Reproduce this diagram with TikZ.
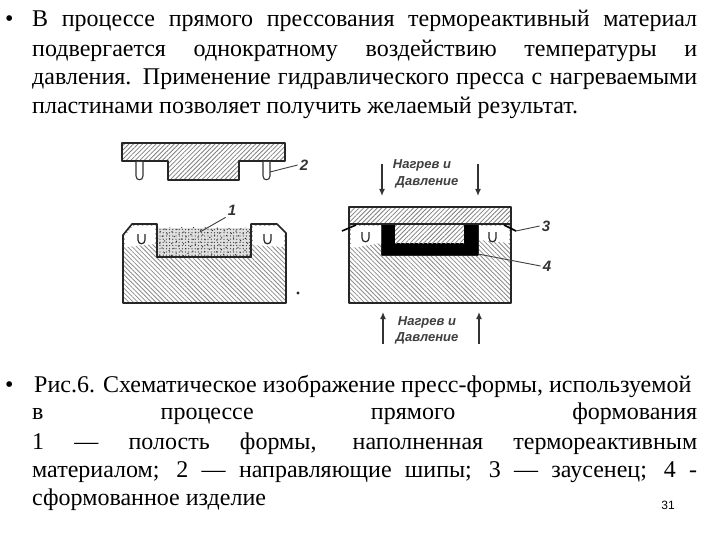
\documentclass[tikz,border=0pt]{standalone}
\usepackage{fontspec}
\setmainfont{Liberation Serif}
\newfontfamily\labelfont{Liberation Sans}
\usetikzlibrary{patterns.meta,arrows.meta}
\tikzset{
  x=1pt,y=-1pt,
  line/.style={anchor=base west,inner sep=0pt,font=\fontsize{24}{28}\selectfont},
  hatchR/.style={pattern={Lines[angle=45,distance=3.2pt,line width=.8pt]},pattern color=black!50},
  hatchL/.style={pattern={Lines[angle=-45,distance=3.2pt,line width=.8pt]},pattern color=black!45},
  outl/.style={draw=black!85,line width=1.6pt,line join=round},
  thinl/.style={draw=black!75,line width=.9pt},
  pinl/.style={draw=black!80,line width=1.1pt,fill=white},
  umark/.style={draw=black!85,line width=1.2pt},
  num/.style={inner sep=2pt,font=\labelfont\itshape\bfseries\fontsize{15}{15}\selectfont,text=black!80},
  cap2/.style={inner sep=0pt,font=\labelfont\itshape\bfseries\fontsize{13}{13}\selectfont,text=black!75},
  press/.style={draw=black!80,line width=1.3pt,-{Latex[length=7pt,width=6pt]}}
}
\newcommand{\jline}[4]{\node[line] (#1) at (#2,#3) {\makebox[665pt][s]{#4}};}
\newcommand{\pline}[4]{\node[line] (#1) at (#2,#3) {#4};}
\begin{document}
\begin{tikzpicture}
\useasboundingbox[fill=white] (0,0) rectangle (720,540);
% top text
\node[line] (b1) at (5,27) {•};
\jline{t1}{32}{27}{В процессе прямого прессования термореактивный материал}
\jline{t2}{32}{57}{подвергается однократному воздействию температуры и}
\jline{t3}{32}{85}{давления. Применение гидравлического пресса с нагреваемыми}
\pline{t4}{32}{114}{пластинами позволяет получить желаемый результат.}
% upper die
\draw[outl,hatchR] (122,143) -- (285,143) -- (285,161) -- (239,161) -- (239,180) -- (168,180) -- (168,161) -- (122,161) -- cycle;
\draw[pinl] (136,162) -- (136,176) .. controls (136,181) and (143,181) .. (143,176) -- (143,162);
\draw[pinl] (263,162) -- (263,176) .. controls (263,181) and (270,181) .. (270,176) -- (270,162);
\coordinate (p2) at (270,172);
\node[num] (n2) at (304,165) {2};
\draw[thinl] (p2) -- (n2.west);
% lower mould left
\draw[outl,hatchL] (123,235) -- (132,224) -- (157,224) -- (157,257) -- (251,257) -- (251,224) -- (277,224) -- (286,233) -- (286,303) -- (123,303) -- cycle;
\fill[white] (125,236) -- (133,226) -- (155,226) -- (155,244) -- (125,247) -- cycle;
\fill[white] (253,226) -- (276,226) -- (284,234) -- (284,247) -- (253,245) -- cycle;
\draw[umark] (138,234) -- (138,240) .. controls (138,245) and (145,245) .. (145,240) -- (145,234);
\draw[umark] (264,234) -- (264,240) .. controls (264,245) and (271,245) .. (271,240) -- (271,234);
\path[fill=black!12] (158,228) rectangle (250,256);
\path[pattern={Dots[distance=3.2pt,radius=.65pt]},pattern color=black!75] (158,228) rectangle (250,256);
\path[pattern={Dots[distance=5.3pt,radius=.75pt,angle=25]},pattern color=black!80] (158,228) rectangle (250,256);
\draw[outl] (157,224) -- (157,257) -- (251,257) -- (251,224);
\fill[black!85] (298,293) circle[radius=1.6];
\coordinate (p1) at (200,232);
\node[num] (n1) at (232,210) {1};
\draw[thinl] (p1) -- (n1.south west);
% right assembly
\draw[outl,hatchL] (349,224) -- (382,224) -- (382,255) -- (478,255) -- (478,224) -- (511,224) -- (511,303) -- (349,303) -- cycle;
\fill[white] (351,226) -- (381,226) -- (381,243) -- (351,248) -- cycle;
\fill[white] (479,226) -- (509,226) -- (509,243) -- (479,240) -- cycle;
\draw[umark] (362,232) -- (362,238) .. controls (362,243) and (369,243) .. (369,238) -- (369,232);
\draw[umark] (489,232) -- (489,238) .. controls (489,243) and (496,243) .. (496,238) -- (496,232);
\fill[black] (382,224) rectangle (478,255);
\fill[white] (395,224) rectangle (464,243);
\path[hatchR] (395,224) rectangle (464,243);
\draw[outl,hatchR] (349,207) rectangle (511,224);
\coordinate (fl1) at (342,231);
\coordinate (fl2) at (356,225);
\coordinate (fr1) at (504,225);
\coordinate (fr2) at (516,231);
\draw[black,line width=1.6pt] (fl1) -- (fl2);
\draw[black,line width=1.6pt] (fr1) -- (fr2);
\node[num] (n3) at (546,226) {3};
\draw[thinl] (fr2) -- (n3.west);
\coordinate (p4) at (478,254);
\node[num] (n4) at (547,266) {4};
\draw[thinl] (p4) -- (n4.west);
% arrows and captions
\coordinate (a1s) at (382,164); \coordinate (a1e) at (382,196);
\coordinate (a2s) at (478,164); \coordinate (a2e) at (478,196);
\coordinate (a3s) at (383,344); \coordinate (a3e) at (383,312);
\coordinate (a4s) at (479,344); \coordinate (a4e) at (479,312);
\draw[press] (a1s) -- (a1e);
\draw[press] (a2s) -- (a2e);
\draw[press] (a3s) -- (a3e);
\draw[press] (a4s) -- (a4e);
\node[cap2] (c1) at (422,165) {Нагрев и};
\node[cap2] (c2) at (427,182) {Давление};
\node[cap2] (c3) at (427,322) {Нагрев и};
\node[cap2] (c4) at (427,338) {Давление};
% bottom text
\node[line] (b2) at (5,392) {•};
\pline{u1}{34}{392}{Рис.6. Схематическое изображение пресс-формы, используемой}
\jline{u2}{32}{419}{в процессе прямого формования}
\jline{u3}{32}{449}{1 — полость формы, наполненная термореактивным}
\jline{u4}{32}{477}{материалом; 2 — направляющие шипы; 3 — заусенец; 4 -}
\pline{u5}{32}{505}{сформованное изделие}
\node[inner sep=0pt,font=\labelfont\fontsize{12}{12}\selectfont] (pg) at (668,505) {31};
\end{tikzpicture}
\end{document}
